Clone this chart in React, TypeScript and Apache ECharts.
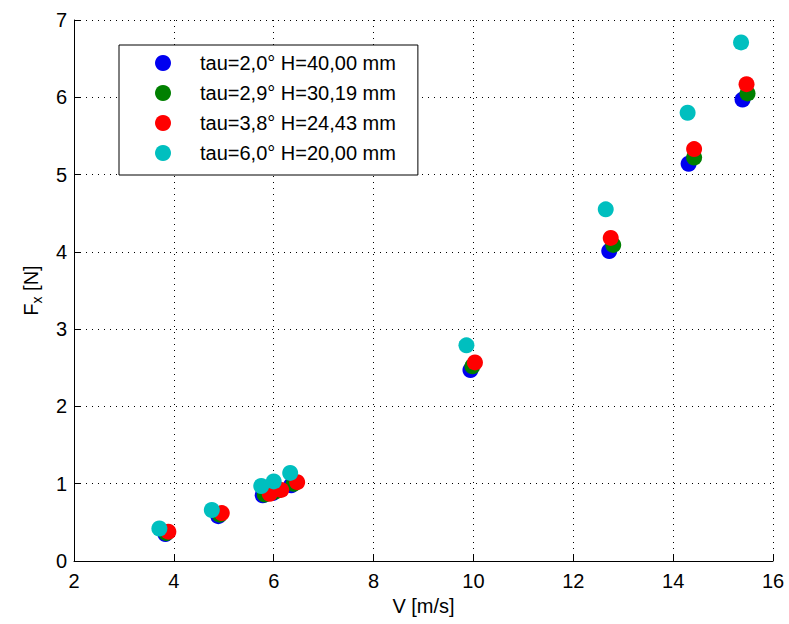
import React, { useEffect, useRef } from "react";
import * as echarts from "echarts";

const seriesNames = [
  "tau=2,0° H=40,00 mm",
  "tau=2,9° H=30,19 mm",
  "tau=3,8° H=24,43 mm",
  "tau=6,0° H=20,00 mm",
];
const seriesColors = ["#0000F0", "#008000", "#FF0000", "#00BFBF"];

const blueData: [number, number][] = [
  [3.83, 0.35], [4.89, 0.58], [5.78, 0.85], [5.98, 0.88], [6.35, 0.98],
  [9.94, 2.47], [12.72, 4.01], [14.31, 5.14], [15.39, 5.97],
];
const greenData: [number, number][] = [
  [3.85, 0.36], [4.92, 0.6], [5.82, 0.86], [6.04, 0.9], [6.4, 1.0],
  [9.98, 2.52], [12.8, 4.09], [14.42, 5.22], [15.49, 6.05],
];
const redData: [number, number][] = [
  [3.89, 0.38], [4.96, 0.62], [5.92, 0.87], [6.15, 0.92], [6.47, 1.02],
  [10.03, 2.57], [12.75, 4.18], [14.42, 5.33], [15.47, 6.17],
];
const cyanData: [number, number][] = [
  [3.71, 0.42], [4.76, 0.66], [5.75, 0.97], [6.0, 1.03], [6.33, 1.14],
  [9.86, 2.79], [12.65, 4.55], [14.29, 5.8], [15.36, 6.71],
];
const allData = [blueData, greenData, redData, cyanData];

const xAxisName = "V [m/s]";
const FONT = "'Liberation Sans', Arial, Helvetica, sans-serif";

export default function App() {
  const ref = useRef<HTMLDivElement>(null);
  useEffect(() => {
    if (!ref.current) return;
    const chart = echarts.init(ref.current, undefined, { renderer: "svg" });
    const gridLine = { show: true, lineStyle: { color: "#000", width: 1, type: [1, 5] as any } };
    chart.setOption({
      animation: false,
      backgroundColor: "#fff",
      textStyle: { fontFamily: FONT, color: "#000" },
      grid: { left: 74, right: 16, top: 20, bottom: 63, containLabel: false },
      legend: {
        orient: "vertical",
        left: 119,
        top: 45,
        backgroundColor: "#fff",
        borderColor: "#000",
        borderWidth: 1,
        borderRadius: 0,
        padding: [8, 22, 12, 36],
        itemWidth: 16,
        itemHeight: 16,
        itemGap: 10,
        icon: "circle",
        textStyle: { fontFamily: FONT, fontSize: 20, color: "#000", lineHeight: 20, padding: [0, 0, 0, 24] },
        data: seriesNames,
      },
      xAxis: {
        type: "value",
        min: 2,
        max: 16,
        interval: 2,
        name: xAxisName,
        nameLocation: "middle",
        nameGap: 34,
        nameTextStyle: { fontFamily: FONT, fontSize: 20, color: "#000" },
        axisLine: { show: true, onZero: false, lineStyle: { color: "#000", width: 1 } },
        axisTick: { show: true, inside: true, length: 6, lineStyle: { color: "#000" } },
        axisLabel: { fontFamily: FONT, fontSize: 20, color: "#000", margin: 10 },
        splitLine: gridLine,
      },
      yAxis: {
        type: "value",
        min: 0,
        max: 7,
        interval: 1,
        name: "{f|F}{sub|x}{f| [N]}",
        nameLocation: "middle",
        nameGap: 30,
        nameRotate: 90,
        nameTextStyle: {
          fontFamily: FONT,
          fontSize: 20,
          color: "#000",
          rich: {
            f: { fontFamily: FONT, fontSize: 20, color: "#000" },
            sub: { fontFamily: FONT, fontSize: 14, color: "#000", padding: [12, 0, 0, 0] },
          },
        },
        axisLine: { show: true, onZero: false, lineStyle: { color: "#000", width: 1 } },
        axisTick: { show: true, inside: true, length: 6, lineStyle: { color: "#000" } },
        axisLabel: { fontFamily: FONT, fontSize: 20, color: "#000", margin: 7 },
        splitLine: gridLine,
      },
      series: allData.map((d, i) => ({
        name: seriesNames[i],
        type: "scatter",
        symbol: "circle",
        symbolSize: 16,
        itemStyle: { color: seriesColors[i], opacity: 1 },
        z: 2 + i,
        data: d,
      })),
    });
    return () => chart.dispose();
  }, []);
  return (
    <div
      ref={ref}
      style={{ position: "fixed", left: 0, top: 0, width: 789, height: 624 }}
    />
  );
}
